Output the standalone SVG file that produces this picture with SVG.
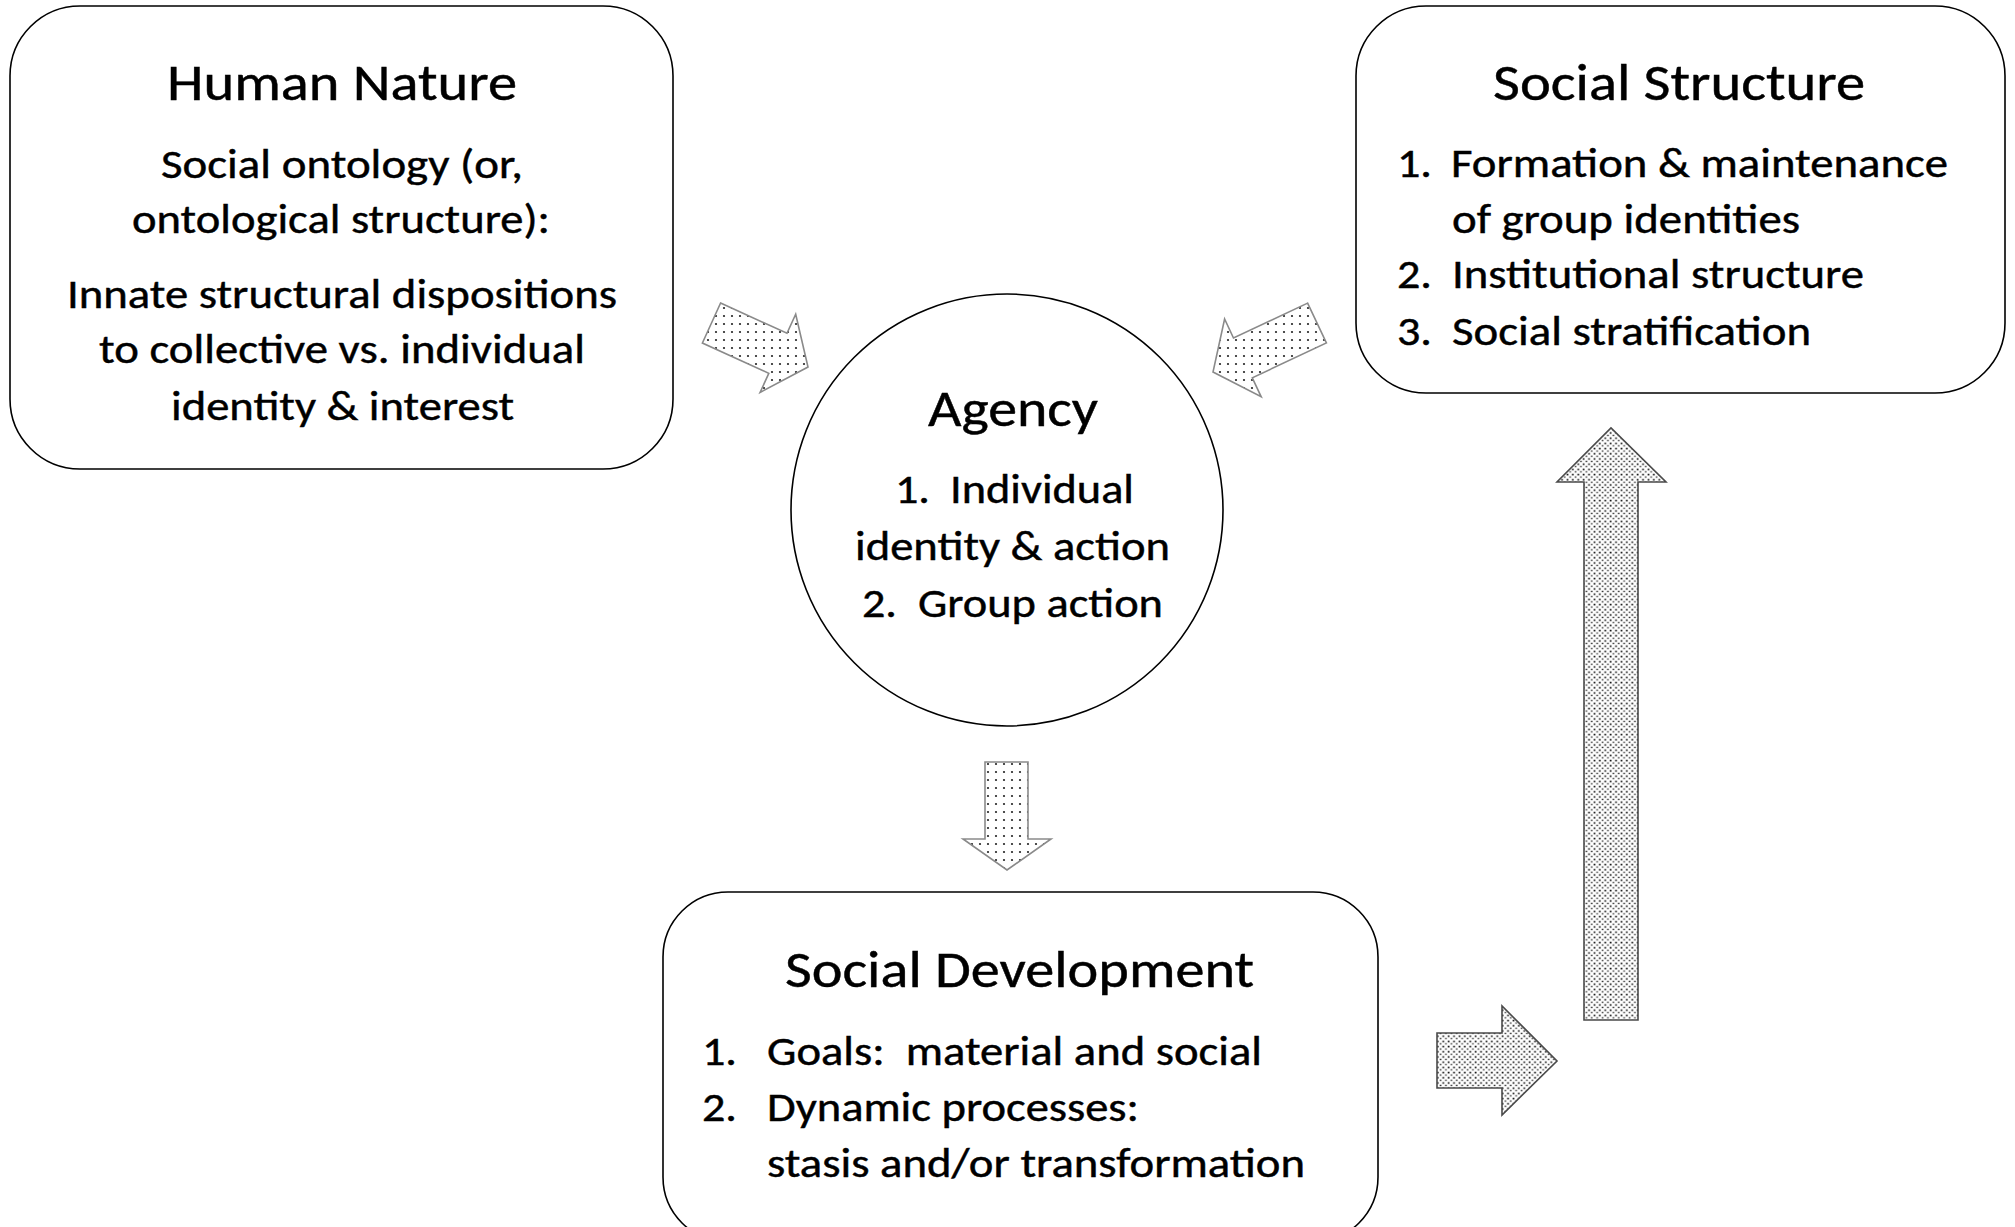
<svg xmlns="http://www.w3.org/2000/svg" width="2015" height="1227" viewBox="0 0 2015 1227">
  <style>
    .box { fill: #ffffff; stroke: #000000; stroke-width: 1.6; }
    .t { font-family: Carlito, Lato, "Liberation Sans", sans-serif; fill: #000000; stroke: #000000; stroke-width: 0.45; }
    .title { font-size: 52px; }
    .body { font-size: 42px; }
    .arrow-sm { fill: url(#dotsSmall); stroke: #8a8a8a; stroke-width: 1.6; stroke-linejoin: miter; }
    .arrow-lg { fill: url(#dotsLarge); stroke: #4a4a4a; stroke-width: 1.6; stroke-linejoin: miter; }
  </style>
  <defs>
    <!-- sparse dot fill for the short arrows around Agency -->
    <pattern id="dotsSmall" patternUnits="userSpaceOnUse" width="8" height="8">
      <rect width="8" height="8" fill="#ffffff"/>
      <circle cx="4" cy="4" r="1.1" fill="#222222"/>
    </pattern>
    <!-- denser staggered dot fill for the feedback arrows -->
    <pattern id="dotsLarge" patternUnits="userSpaceOnUse" width="5.4" height="5.2">
      <rect width="5.4" height="5.2" fill="#ffffff"/>
      <rect x="0.6" y="0.6" width="1.7" height="1.6" fill="#111111"/>
      <rect x="3.3" y="3.2" width="1.7" height="1.3" fill="#333333"/>
    </pattern>
  </defs>

  <rect width="2015" height="1227" fill="#ffffff"/>

  <!-- block arrows -->
  <g id="connectors">
    <polygon id="arrow-nature-agency" class="arrow-sm" points="720.6,303 787,333.3 795.7,314.2 808,367 760.1,392.4 768.8,373.3 702.4,343"/>
    <polygon id="arrow-structure-agency" class="arrow-sm" points="1307.6,303.1 1233.5,338 1224.6,319 1213,372 1261.2,396.8 1252.3,377.8 1326.4,342.9"/>
    <polygon id="arrow-agency-development" class="arrow-sm" points="985,762 1028,762 1028,839 1051,839 1007,870 963,839 985,839"/>
    <polygon id="arrow-development-right" class="arrow-lg" points="1437,1033 1502,1033 1502,1006 1557,1061 1502,1115 1502,1088 1437,1088"/>
    <polygon id="arrow-up-structure" class="arrow-lg" points="1584,1020 1584,482 1557,482 1611,428 1666,482 1638,482 1638,1020"/>
  </g>

  <g id="human-nature">
    <rect class="box" x="10" y="6" width="663" height="463" rx="70" ry="70"/>
    <text class="t title" x="167" y="100" textLength="350" lengthAdjust="spacingAndGlyphs">Human Nature</text>
    <text class="t body" x="161" y="178" textLength="362" lengthAdjust="spacingAndGlyphs">Social ontology (or,</text>
    <text class="t body" x="132" y="233" textLength="418" lengthAdjust="spacingAndGlyphs">ontological structure):</text>
    <text class="t body" x="67" y="308" textLength="550" lengthAdjust="spacingAndGlyphs">Innate structural dispositions</text>
    <text class="t body" x="99" y="363" textLength="486" lengthAdjust="spacingAndGlyphs">to collective vs. individual</text>
    <text class="t body" x="171" y="420" textLength="343" lengthAdjust="spacingAndGlyphs">identity &amp; interest</text>
  </g>

  <g id="social-structure">
    <rect class="box" x="1356" y="6" width="649" height="387" rx="70" ry="70"/>
    <text class="t title" x="1493" y="100" textLength="372" lengthAdjust="spacingAndGlyphs">Social Structure</text>
    <text class="t body" x="1397" y="177" textLength="35" lengthAdjust="spacingAndGlyphs">1.</text>
    <text class="t body" x="1451" y="177" textLength="497" lengthAdjust="spacingAndGlyphs">Formation &amp; maintenance</text>
    <text class="t body" x="1452" y="233" textLength="348" lengthAdjust="spacingAndGlyphs">of group identities</text>
    <text class="t body" x="1397" y="288" textLength="35" lengthAdjust="spacingAndGlyphs">2.</text>
    <text class="t body" x="1452" y="288" textLength="412" lengthAdjust="spacingAndGlyphs">Institutional structure</text>
    <text class="t body" x="1397" y="345" textLength="35" lengthAdjust="spacingAndGlyphs">3.</text>
    <text class="t body" x="1452" y="345" textLength="359" lengthAdjust="spacingAndGlyphs">Social stratification</text>
  </g>

  <g id="agency">
    <circle class="box" cx="1007" cy="510" r="216"/>
    <text class="t title" x="928" y="426" textLength="170" lengthAdjust="spacingAndGlyphs">Agency</text>
    <text class="t body" x="895" y="503" textLength="35" lengthAdjust="spacingAndGlyphs">1.</text>
    <text class="t body" x="950" y="503" textLength="184" lengthAdjust="spacingAndGlyphs">Individual</text>
    <text class="t body" x="855" y="560" textLength="315" lengthAdjust="spacingAndGlyphs">identity &amp; action</text>
    <text class="t body" x="862" y="617" textLength="35" lengthAdjust="spacingAndGlyphs">2.</text>
    <text class="t body" x="918" y="617" textLength="245" lengthAdjust="spacingAndGlyphs">Group action</text>
  </g>

  <g id="social-development">
    <rect class="box" x="663" y="892" width="715" height="350" rx="65" ry="65"/>
    <text class="t title" x="785" y="987" textLength="469" lengthAdjust="spacingAndGlyphs">Social Development</text>
    <text class="t body" x="702" y="1065" textLength="35" lengthAdjust="spacingAndGlyphs">1.</text>
    <text class="t body" x="767" y="1065" textLength="495" lengthAdjust="spacingAndGlyphs" xml:space="preserve">Goals:  material and social</text>
    <text class="t body" x="702" y="1121" textLength="35" lengthAdjust="spacingAndGlyphs">2.</text>
    <text class="t body" x="767" y="1121" textLength="372" lengthAdjust="spacingAndGlyphs">Dynamic processes:</text>
    <text class="t body" x="767" y="1177" textLength="538" lengthAdjust="spacingAndGlyphs">stasis and/or transformation</text>
  </g>
</svg>
